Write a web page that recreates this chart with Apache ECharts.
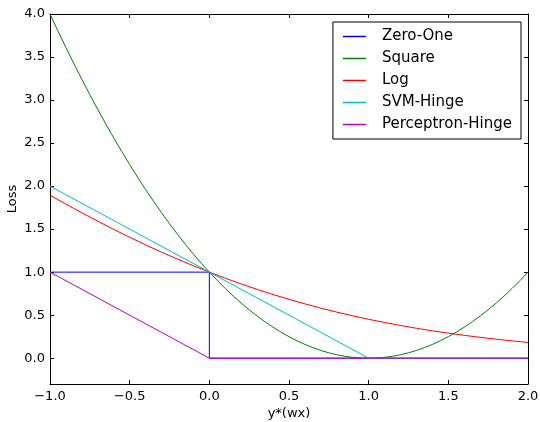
<!DOCTYPE html>
<html><head><meta charset="utf-8">
<script src="https://cdn.jsdelivr.net/npm/echarts@6/dist/echarts.min.js"></script>
<style>html,body{margin:0;padding:0;background:#fff}#c{width:540px;height:422px}</style>
</head><body><div id="c"></div>
<script>
const seriesNames = ['Zero-One', 'Square', 'Log', 'SVM-Hinge', 'Perceptron-Hinge'];
const seriesColors = ['#0000ff', '#008000', '#ff0000', '#00bfbf', '#bf00bf'];

const xZeroOne = [-1, 0, 0, 2];
const yZeroOne = [1, 1, 0, 0];

const xSquare = [-1.00,-0.95,-0.90,-0.85,-0.80,-0.75,-0.70,-0.65,-0.60,-0.55,-0.50,-0.45,-0.40,-0.35,-0.30,-0.25,-0.20,-0.15,-0.10,-0.05,
  0.00,0.05,0.10,0.15,0.20,0.25,0.30,0.35,0.40,0.45,0.50,0.55,0.60,0.65,0.70,0.75,0.80,0.85,0.90,0.95,
  1.00,1.05,1.10,1.15,1.20,1.25,1.30,1.35,1.40,1.45,1.50,1.55,1.60,1.65,1.70,1.75,1.80,1.85,1.90,1.95,2.00];
const ySquare = [4.0,3.8025,3.61,3.4225,3.24,3.0625,2.89,2.7225,2.56,2.4025,2.25,2.1025,1.96,1.8225,1.69,1.5625,1.44,1.3225,1.21,1.1025,
  1.0,0.9025,0.81,0.7225,0.64,0.5625,0.49,0.4225,0.36,0.3025,0.25,0.2025,0.16,0.1225,0.09,0.0625,0.04,0.0225,0.01,0.0025,
  0.0,0.0025,0.01,0.0225,0.04,0.0625,0.09,0.1225,0.16,0.2025,0.25,0.3025,0.36,0.4225,0.49,0.5625,0.64,0.7225,0.81,0.9025,1.0];

const xLog = [-1.0,-0.9,-0.8,-0.7,-0.6,-0.5,-0.4,-0.3,-0.2,-0.1,0.0,0.1,0.2,0.3,0.4,0.5,0.6,0.7,0.8,0.9,1.0,1.1,1.2,1.3,1.4,1.5,1.6,1.7,1.8,1.9,2.0];
const yLog = [1.8946,1.7906,1.6896,1.5916,1.4968,1.4053,1.3172,1.2326,1.1515,1.0740,1.0,0.9297,0.8629,0.7998,0.7401,0.6840,0.6312,0.5817,0.5354,0.4922,
  0.4519,0.4145,0.3798,0.3477,0.3180,0.2906,0.2653,0.2421,0.2207,0.2011,0.1831];

const xSvm = [-1, 1, 2];
const ySvm = [2, 0, 0];

const xPerc = [-1, 0, 2];
const yPerc = [1, 0, 0];

const xTicks = [-1.0, -0.5, 0.0, 0.5, 1.0, 1.5, 2.0];
const yTicks = [0.0, 0.5, 1.0, 1.5, 2.0, 2.5, 3.0, 3.5, 4.0];

const xs = [xZeroOne, xSquare, xLog, xSvm, xPerc];
const ys = [yZeroOne, ySquare, yLog, ySvm, yPerc];

function fmt(v) { return v.toFixed(1).replace('-', '\u2212'); }

const font = 'DejaVu Sans';
const axisLineStyle = { color: '#000', width: 1 };
const xTick = { show: true, inside: true, length: 4, customValues: xTicks, lineStyle: { color: '#000', width: 1 } };
const yTick = { show: true, inside: true, length: 4, customValues: yTicks, lineStyle: { color: '#000', width: 1 } };

const chart = echarts.init(document.getElementById('c'), null, { renderer: 'canvas' });
chart.setOption({
  animation: false,
  backgroundColor: '#fff',
  grid: { left: 50, right: 12, top: 14, bottom: 38, containLabel: false, outerBoundsMode: 'none' },
  legend: {
    right: 19, top: 22,
    orient: 'vertical',
    data: seriesNames,
    icon: 'rect',
    itemWidth: 23, itemHeight: 1.5,
    itemGap: 7,
    padding: [7, 9, 7, 10],
    borderColor: '#000', borderWidth: 1, borderRadius: 0,
    backgroundColor: '#fff',
    textStyle: { fontFamily: font, fontSize: 15, color: '#000', lineHeight: 14, padding: [0, 0, 0, 11] }
  },
  xAxis: [{
    type: 'value', min: -1, max: 2,
    name: 'y*(wx)', nameLocation: 'middle', nameGap: 23, nameMoveOverlap: false,
    nameTextStyle: { fontFamily: font, fontSize: 13, color: '#000' },
    axisLine: { show: true, onZero: false, lineStyle: axisLineStyle },
    axisTick: xTick,
    splitLine: { show: false },
    axisLabel: { fontFamily: font, fontSize: 13, color: '#000', margin: 6, customValues: xTicks, formatter: v => fmt(v) }
  }, {
    type: 'value', min: -1, max: 2, position: 'top',
    axisLine: { show: true, onZero: false, lineStyle: axisLineStyle },
    axisTick: xTick, splitLine: { show: false }, axisLabel: { show: false }
  }],
  yAxis: [{
    type: 'value', min: -0.3, max: 4.0,
    name: 'Loss', nameLocation: 'middle', nameGap: 31, nameRotate: 90, nameMoveOverlap: false,
    nameTextStyle: { fontFamily: font, fontSize: 13, color: '#000' },
    axisLine: { show: true, onZero: false, lineStyle: axisLineStyle },
    axisTick: yTick,
    splitLine: { show: false },
    axisLabel: { fontFamily: font, fontSize: 13, color: '#000', margin: 5, customValues: yTicks, formatter: v => fmt(v) }
  }, {
    type: 'value', min: -0.3, max: 4.0, position: 'right',
    axisLine: { show: true, onZero: false, lineStyle: axisLineStyle },
    axisTick: yTick, splitLine: { show: false }, axisLabel: { show: false }
  }],
  series: seriesNames.map((name, i) => ({
    name: name,
    type: 'line',
    xAxisIndex: 0, yAxisIndex: 0,
    showSymbol: false, symbol: 'none',
    color: seriesColors[i],
    lineStyle: { color: seriesColors[i], width: 1 },
    data: xs[i].map((x, j) => [x, ys[i][j]]),
    z: 2 + i
  }))
});
</script>
</body></html>
